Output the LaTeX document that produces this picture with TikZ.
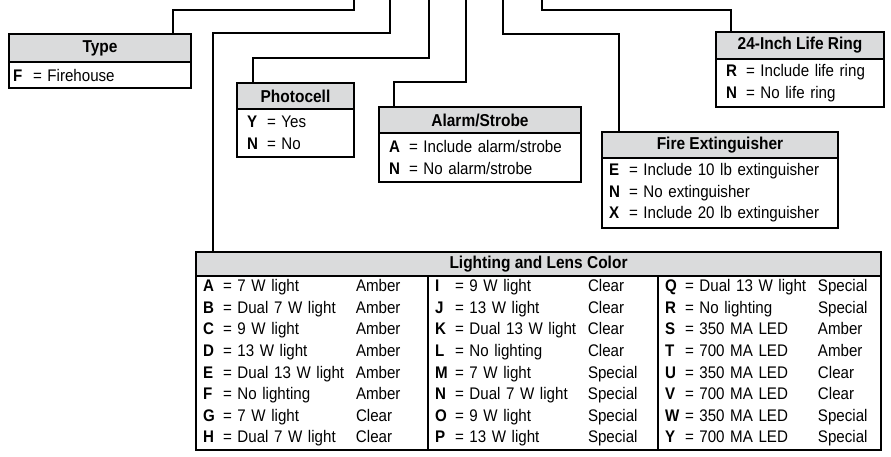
\documentclass[tikz,border=0pt]{standalone}
\usepackage{fontspec}
\setmainfont{Liberation Sans}[FakeStretch=0.9]
\usepackage{xcolor}
\usepackage{tikz}

\definecolor{headgray}{RGB}{218,219,220}
\newcommand{\opt}[2]{\makebox[20pt][l]{\textbf{#1}}= #2}
\newcommand{\lamp}[3]{\makebox[20pt][l]{\textbf{#1}}\makebox[133pt][l]{= #2}#3}

\begin{document}
\begin{tikzpicture}[x=1pt, y=-1pt, font={\fontsize{16.8}{21.6}\selectfont},
  head/.style={draw, line width=1.1pt, fill=headgray, font={\fontsize{17.2}{21.6}\selectfont\bfseries},
    anchor=north west, minimum height=26pt, inner sep=0pt, outer sep=0pt},
  body/.style={draw, line width=1.1pt, anchor=north west, align=left, inner ysep=0pt, outer sep=0pt},
  link/.style={line width=1.9pt}]
\useasboundingbox (0,0) rectangle (891,456);

% Type
\node[head, minimum width=182pt, minimum height=28pt] (typehead) at (9,34) {Type};
\node[body, text width=174pt, inner xsep=4pt, minimum height=26pt] (typebody) at (typehead.south west) {\opt{F}{Firehouse}};

% Photocell
\node[head, minimum width=117pt] (photohead) at (237,83) {Photocell};
\node[body, text width=97pt, inner xsep=10pt, minimum height=48pt] (photobody) at (photohead.south west) {\opt{Y}{Yes}\\ \opt{N}{No}};

% Alarm/Strobe
\node[head, minimum width=202pt] (alarmhead) at (379,107) {Alarm/Strobe};
\node[body, text width=182pt, inner xsep=10pt, minimum height=49pt] (alarmbody) at (alarmhead.south west) {\opt{A}{Include alarm/strobe}\\ \opt{N}{No alarm/strobe}};

% Fire Extinguisher
\node[head, minimum width=236pt] (firehead) at (602,132) {Fire Extinguisher};
\node[body, text width=222pt, inner xsep=7pt, minimum height=70pt] (firebody) at (firehead.south west) {\opt{E}{Include 10 lb extinguisher}\\ \opt{N}{No extinguisher}\\ \opt{X}{Include 20 lb extinguisher}};

% 24-Inch Life Ring
\node[head, minimum width=168pt, minimum height=27pt] (ringhead) at (716,32) {24-Inch Life Ring};
\node[body, text width=148pt, inner xsep=10pt, minimum height=48pt] (ringbody) at (ringhead.south west) {\opt{R}{Include life ring}\\ \opt{N}{No life ring}};

% Lighting and Lens Color
\node[head, minimum width=685pt, minimum height=24pt] (lighthead) at (196,252) {Lighting and Lens Color};
\node[body, text width=218pt, inner xsep=7pt, minimum height=174pt] (lightA) at (lighthead.south west) {%
  \lamp{A}{7 W light}{Amber}\\ \lamp{B}{Dual 7 W light}{Amber}\\ \lamp{C}{9 W light}{Amber}\\
  \lamp{D}{13 W light}{Amber}\\ \lamp{E}{Dual 13 W light}{Amber}\\ \lamp{F}{No lighting}{Amber}\\
  \lamp{G}{7 W light}{Clear}\\ \lamp{H}{Dual 7 W light}{Clear}};
\node[body, text width=216pt, inner xsep=7pt, minimum height=174pt] (lightB) at (lightA.north east) {%
  \lamp{I}{9 W light}{Clear}\\ \lamp{J}{13 W light}{Clear}\\ \lamp{K}{Dual 13 W light}{Clear}\\
  \lamp{L}{No lighting}{Clear}\\ \lamp{M}{7 W light}{Special}\\ \lamp{N}{Dual 7 W light}{Special}\\
  \lamp{O}{9 W light}{Special}\\ \lamp{P}{13 W light}{Special}};
\node[body, text width=209pt, inner xsep=7pt, minimum height=174pt] (lightC) at (lightB.north east) {%
  \lamp{Q}{Dual 13 W light}{Special}\\ \lamp{R}{No lighting}{Special}\\ \lamp{S}{350 MA LED}{Amber}\\
  \lamp{T}{700 MA LED}{Amber}\\ \lamp{U}{350 MA LED}{Clear}\\ \lamp{V}{700 MA LED}{Clear}\\
  \lamp{W}{350 MA LED}{Special}\\ \lamp{Y}{700 MA LED}{Special}};

% connectors from the top edge
\coordinate (typetop) at (354,0);
\coordinate (lighttop) at (390,0);
\coordinate (phototop) at (429,0);
\coordinate (alarmtop) at (466,0);
\coordinate (firetop) at (503,0);
\coordinate (ringtop) at (542,0);

\draw[link] (typetop) -- ++(0,10) -| ([xshift=164pt]typehead.north west);
\draw[link] (lighttop) -- ++(0,33) -| ([xshift=17pt]lighthead.north west);
\draw[link] (phototop) -- ++(0,58) -| ([xshift=16pt]photohead.north west);
\draw[link] (alarmtop) -- ++(0,82) -| ([xshift=15pt]alarmhead.north west);
\draw[link] (firetop) -- ++(0,34) -| ([xshift=17pt]firehead.north west);
\draw[link] (ringtop) -- ++(0,10) -| ([xshift=15pt]ringhead.north west);
\end{tikzpicture}
\end{document}
